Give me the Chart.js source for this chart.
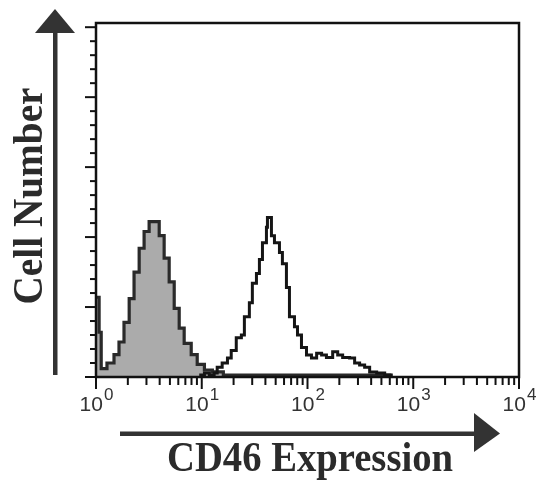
<!DOCTYPE html>
<html>
<head>
<meta charset="utf-8">
<script src="https://cdn.jsdelivr.net/npm/chart.js@4.4.1/dist/chart.umd.min.js"></script>
<style>
  html, body { margin: 0; padding: 0; background: #fff; }
  #wrap { width: 536px; height: 482px; }
</style>
</head>
<body>
<div id="wrap"><canvas id="chartHist" width="536" height="482"></canvas></div>
<script>
// control histogram (grey, filled)
const controlX = [1.0, 1.07, 1.12, 1.27, 1.48, 1.65, 1.84, 2.06, 2.29, 2.56, 2.85, 3.18, 3.55, 3.96, 4.41, 4.92, 5.49, 6.12, 6.82, 7.95, 9.06, 10.6, 12.6, 16, 600];
const controlCounts = [57, 32, 6, 10, 16, 25, 39, 56, 75, 92, 104, 111, 111, 101, 85, 68, 49, 35, 24, 16, 9, 5, 3.6, 1.4, 0];

// CD46 histogram (open, black line)
const cd46X = [9.47, 10.6, 11.8, 13.1, 14.0, 15.6, 17.5, 19.0, 21.2, 23.7, 25.3, 28.2, 30.1, 32.9, 35.1, 37.5, 40.9, 41.8, 45.6, 48.7, 54.3, 57.9, 63.2, 67.5, 75.3, 80.4, 87.7, 97.8, 109, 122, 136, 151, 173, 193, 215, 250, 279, 311, 347, 387, 451, 537, 620];
const cd46Counts = [1.4, 2.9, 1.4, 2.9, 7, 10, 13.6, 19, 28, 30, 43, 53, 67, 74, 84, 96, 107, 114, 101, 96, 89, 81, 64, 43, 36, 30, 21, 15.7, 13.6, 17, 15.7, 14, 18, 15.7, 14, 13.6, 10, 8.6, 7, 3.6, 2.9, 1.4, 0];

// axes
const xDecades = [1, 10, 100, 1000, 10000];
const xExponents = ['0', '1', '2', '3', '4'];
const yMinorTicks = [0, 10, 20, 30, 40, 50, 60, 70, 80, 90, 100, 110, 120, 130, 140, 150, 160, 170, 180, 190, 200, 210, 220, 230, 240, 250];
const yMajorTicks = [0, 50, 100, 150, 200, 250];
const xTitle = 'CD46 Expression';
const yTitle = 'Cell Number';

const toPoints = (xs, ys) => xs.map((x, i) => ({ x, y: ys[i] }));

// frame, ticks, labels, arrows
const decor = {
  id: 'decor',
  afterDraw(chart) {
    const ctx = chart.ctx;
    const a = chart.chartArea;
    const xs = chart.scales.x, ys = chart.scales.y;
    ctx.save();

    ctx.strokeStyle = '#111';
    ctx.lineWidth = 2.5;
    ctx.strokeRect(a.left, a.top, a.right - a.left, a.bottom - a.top);

    // y ticks
    ctx.lineWidth = 2;
    yMinorTicks.forEach(v => {
      const y = ys.getPixelForValue(v);
      const len = yMajorTicks.includes(v) ? 11 : 6;
      ctx.beginPath(); ctx.moveTo(a.left, y); ctx.lineTo(a.left - len, y); ctx.stroke();
    });

    // x ticks
    xDecades.forEach((d, i) => {
      const px = xs.getPixelForValue(d);
      ctx.beginPath(); ctx.moveTo(px, a.bottom); ctx.lineTo(px, a.bottom + 12); ctx.stroke();
      if (i < xDecades.length - 1) {
        for (let k = 2; k <= 9; k++) {
          const m = xs.getPixelForValue(d * k);
          ctx.beginPath(); ctx.moveTo(m, a.bottom); ctx.lineTo(m, a.bottom + 8); ctx.stroke();
        }
      }
    });

    // x tick labels 10^n
    ctx.fillStyle = '#333';
    ctx.textBaseline = 'alphabetic';
    ctx.textAlign = 'left';
    xDecades.forEach((d, i) => {
      const px = xs.getPixelForValue(d);
      ctx.font = '21px "Liberation Sans"';
      const wb = ctx.measureText('10').width;
      ctx.font = '17px "Liberation Sans"';
      const we = ctx.measureText(xExponents[i]).width;
      const x0 = px - (wb + we) / 2;
      ctx.font = '21px "Liberation Sans"';
      ctx.fillText('10', x0, 411);
      ctx.font = '17px "Liberation Sans"';
      ctx.fillText(xExponents[i], x0 + wb + 1, 400);
    });

    // arrows
    ctx.fillStyle = '#333';
    ctx.fillRect(53, 32, 4.5, 343);
    ctx.beginPath(); ctx.moveTo(35, 33); ctx.lineTo(75, 33); ctx.lineTo(55, 9); ctx.closePath(); ctx.fill();
    ctx.fillRect(120, 431.5, 355, 4.5);
    ctx.beginPath(); ctx.moveTo(474, 413); ctx.lineTo(474, 452); ctx.lineTo(500, 433.5); ctx.closePath(); ctx.fill();

    // axis titles
    ctx.fillStyle = '#2b2b2b';
    ctx.font = 'bold 42px "Liberation Serif"';
    ctx.textAlign = 'center';
    let w = ctx.measureText(xTitle).width;
    ctx.save();
    ctx.translate(310, 471);
    ctx.scale(286 / w, 1);
    ctx.fillText(xTitle, 0, 0);
    ctx.restore();

    w = ctx.measureText(yTitle).width;
    ctx.save();
    ctx.translate(42, 196);
    ctx.rotate(-Math.PI / 2);
    ctx.scale(217 / w, 1);
    ctx.fillText(yTitle, 0, 0);
    ctx.restore();

    ctx.restore();
  }
};

new Chart(document.getElementById('chartHist').getContext('2d'), {
  type: 'line',
  data: {
    datasets: [
      {
        label: 'CD46',
        data: toPoints(cd46X, cd46Counts),
        stepped: true,
        borderColor: '#151515',
        borderWidth: 3,
        pointRadius: 0,
        fill: false
      },
      {
        label: 'Control',
        data: toPoints(controlX, controlCounts),
        stepped: true,
        borderColor: '#2a2a2a',
        borderWidth: 3.2,
        backgroundColor: '#ababab',
        pointRadius: 0,
        fill: 'origin'
      }
    ]
  },
  options: {
    responsive: false,
    animation: false,
    layout: { padding: { left: 96, right: 17, top: 23, bottom: 105 } },
    plugins: { legend: { display: false }, tooltip: { enabled: false } },
    scales: {
      x: { type: 'logarithmic', min: 1, max: 10000, display: false },
      y: { type: 'linear', min: 0, max: 253, display: false }
    }
  },
  plugins: [decor]
});
</script>
</body>
</html>
